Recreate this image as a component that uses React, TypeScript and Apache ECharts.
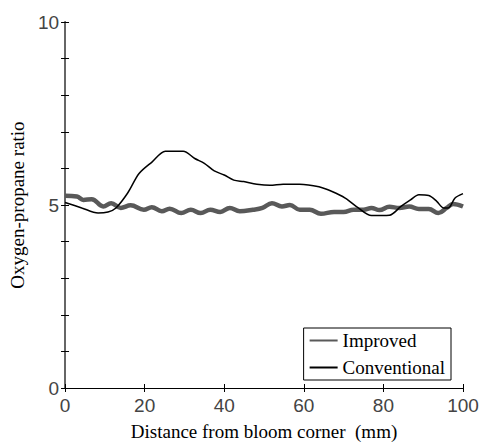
import React, { useEffect, useRef } from "react";
import * as echarts from "echarts";

const xTicks = [0, 20, 40, 60, 80, 100];
const yLabels = [0, 5, 10];

const improvedX = [0, 3, 4.6, 6.7, 9.6, 11.6, 14, 16.5, 19.8, 21.8, 24.3, 26.3, 29.2, 31.6, 34.1, 36.5, 39, 41.4, 43.9, 47.2, 49.6, 52, 54.5, 56.5, 59, 61.5, 64.3, 67.6, 70, 72.5, 75, 77, 79, 81.5, 84, 86.5, 88.9, 91.4, 93.8, 95.9, 97.5, 100];
const improvedY = [5.25, 5.23, 5.14, 5.16, 4.96, 5.05, 4.92, 4.99, 4.87, 4.94, 4.83, 4.9, 4.78, 4.87, 4.78, 4.87, 4.81, 4.92, 4.83, 4.87, 4.92, 5.05, 4.96, 5.0, 4.87, 4.87, 4.76, 4.81, 4.81, 4.87, 4.87, 4.92, 4.86, 4.95, 4.92, 4.96, 4.89, 4.89, 4.78, 4.92, 5.03, 4.96];

const conventionalX = [0, 4.2, 8.3, 10.8, 12.8, 15.7, 18.6, 21.9, 25.2, 29.7, 32.6, 35, 37.5, 40, 42.4, 44.9, 48.2, 51.5, 54.8, 58.9, 63.8, 67.1, 70.4, 73.7, 77, 81.5, 84.4, 86.8, 88.9, 91.4, 93.4, 95.1, 96.3, 98, 100];
const conventionalY = [5.07, 4.92, 4.78, 4.81, 4.92, 5.32, 5.86, 6.18, 6.47, 6.47, 6.27, 6.14, 5.93, 5.82, 5.68, 5.64, 5.57, 5.54, 5.57, 5.57, 5.5, 5.37, 5.19, 4.92, 4.71, 4.72, 4.96, 5.14, 5.28, 5.26, 5.1, 4.92, 4.92, 5.19, 5.31];

const seriesNames = ["Improved", "Conventional"];

export default function App() {
  const ref = useRef<HTMLDivElement>(null);
  useEffect(() => {
    if (!ref.current) return;
    const chart = echarts.init(ref.current, null, { renderer: "svg" });
    const tickFont = { fontFamily: "Liberation Sans", fontSize: 19, color: "#444" };
    const titleFont = { fontFamily: "Liberation Serif", fontSize: 19, color: "#000" };
    chart.setOption({
      animation: false,
      backgroundColor: "#fff",
      grid: { left: 58, right: 25, top: 22, bottom: 54, containLabel: false },
      legend: {
        data: seriesNames,
        orient: "vertical",
        right: 37,
        bottom: 66,
        borderColor: "#000",
        borderWidth: 1,
        padding: [3, 6, 3, 5],
        itemWidth: 28,
        itemHeight: 14,
        itemGap: 8,
        itemStyle: { opacity: 0 },
        textStyle: { ...titleFont },
      },
      xAxis: [
        {
          type: "value",
          min: 0,
          max: 100,
          interval: 20,
          position: "bottom",
          name: "Distance from bloom corner  (mm)",
          nameLocation: "middle",
          nameGap: 34,
          nameTextStyle: { ...titleFont },
          axisLine: { show: true, lineStyle: { color: "#000", width: 1 } },
          axisTick: { show: true, inside: true, length: 4, lineStyle: { color: "#000" } },
          axisLabel: {
            ...tickFont,
            margin: 8,
            formatter: (v: number) => (xTicks.includes(v) ? String(v) : ""),
          },
          splitLine: { show: false },
        },
        {
          type: "value",
          min: 0,
          max: 100,
          interval: 20,
          position: "top",
          axisLine: { show: true, lineStyle: { color: "#000", width: 1 } },
          axisTick: { show: true, inside: true, length: 4, lineStyle: { color: "#000" } },
          axisLabel: { show: false },
          splitLine: { show: false },
        },
      ],
      yAxis: [
        {
          type: "value",
          min: 0,
          max: 10,
          interval: 1,
          position: "left",
          name: "Oxygen-propane ratio",
          nameLocation: "middle",
          nameGap: 27,
          nameRotate: 90,
          nameTextStyle: { ...titleFont },
          axisLine: { show: true, lineStyle: { color: "#000", width: 1 } },
          axisTick: { show: true, inside: true, length: 4, lineStyle: { color: "#000" } },
          axisLabel: {
            ...tickFont,
            margin: 6,
            formatter: (v: number) => (yLabels.includes(v) ? String(v) : ""),
          },
          splitLine: { show: false },
        },
        {
          type: "value",
          min: 0,
          max: 10,
          interval: 1,
          position: "right",
          axisLine: { show: true, lineStyle: { color: "#666", width: 2 } },
          axisTick: { show: true, inside: true, length: 4, lineStyle: { color: "#000" } },
          axisLabel: { show: false },
          splitLine: { show: false },
        },
      ],
      series: [
        {
          name: seriesNames[0],
          type: "line",
          xAxisIndex: 0,
          yAxisIndex: 0,
          data: improvedX.map((x, i) => [x, improvedY[i]]),
          smooth: 0.4,
          symbol: "none",
          lineStyle: { color: "#595959", width: 4.5 },
          itemStyle: { color: "#595959" },
          z: 2,
        },
        {
          name: seriesNames[1],
          type: "line",
          xAxisIndex: 0,
          yAxisIndex: 0,
          data: conventionalX.map((x, i) => [x, conventionalY[i]]),
          smooth: 0.3,
          symbol: "none",
          lineStyle: { color: "#000", width: 1.5 },
          itemStyle: { color: "#000" },
          z: 3,
        },
      ],
    });
    return () => chart.dispose();
  }, []);
  return (
    <div
      ref={ref}
      style={{ position: "fixed", left: 0, top: 0, width: 488, height: 446 }}
    />
  );
}
